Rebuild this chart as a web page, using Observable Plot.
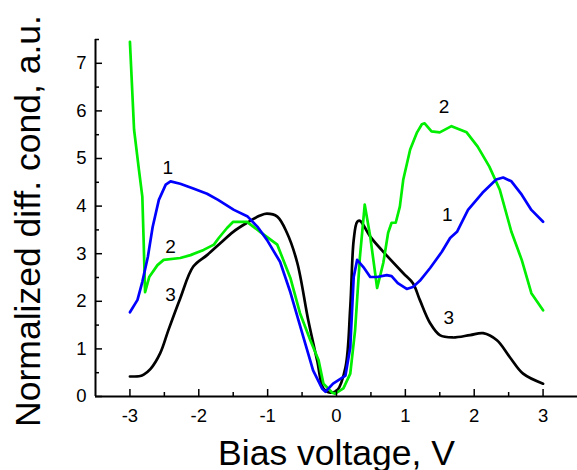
<!DOCTYPE html>
<html><head><meta charset="utf-8">
<script src="https://cdn.jsdelivr.net/npm/d3@7"></script>
<script src="https://cdn.jsdelivr.net/npm/@observablehq/plot@0.6"></script>
<style>
body{margin:0;background:#fff}
svg{font-family:"Liberation Sans",Arial,sans-serif}
</style>
</head><body><div id="chart"></div>
<script>
// Curve 1 (blue)
const v1 = [-3.0,-2.89,-2.82,-2.74,-2.67,-2.58,-2.48,-2.41,-2.27,-2.08,-1.88,-1.72,-1.49,-1.29,-1.15,-1.01,-0.82,-0.67,-0.48,-0.34,-0.21,-0.16,-0.05,0.13,0.20,0.25,0.30,0.39,0.49,0.59,0.73,0.80,0.89,1.02,1.11,1.21,1.36,1.53,1.65,1.75,1.91,2.12,2.32,2.42,2.54,2.69,2.83,3.0];
const g1 = [1.77,2.03,2.41,2.93,3.56,4.13,4.45,4.52,4.47,4.37,4.26,4.13,3.92,3.78,3.57,3.29,2.83,2.19,1.24,0.55,0.17,0.10,0.27,0.44,1.03,2.51,2.87,2.72,2.51,2.51,2.55,2.53,2.38,2.26,2.30,2.43,2.70,3.04,3.33,3.46,3.92,4.28,4.56,4.60,4.52,4.24,3.92,3.67];
// Curve 2 (green)
const v2 = [-3.0,-2.94,-2.87,-2.82,-2.80,-2.78,-2.72,-2.60,-2.51,-2.27,-2.12,-1.93,-1.78,-1.71,-1.59,-1.50,-1.30,-1.11,-0.86,-0.67,-0.53,-0.38,-0.26,-0.19,-0.06,-0.02,0.10,0.20,0.27,0.34,0.41,0.49,0.59,0.68,0.75,0.80,0.86,0.92,0.97,1.07,1.17,1.24,1.28,1.38,1.50,1.67,1.89,2.05,2.22,2.37,2.54,2.69,2.83,3.0];
const g2 = [7.45,5.61,4.77,4.20,3.23,2.19,2.51,2.76,2.87,2.91,2.97,3.08,3.19,3.33,3.54,3.67,3.67,3.46,3.19,2.49,1.75,1.18,0.76,0.27,0.08,0.06,0.17,0.48,1.39,2.93,4.03,3.36,2.28,2.81,3.44,3.65,3.65,3.99,4.56,5.19,5.55,5.72,5.74,5.57,5.55,5.68,5.55,5.25,4.83,4.35,3.46,2.87,2.17,1.81];
// Curve 3 (black)
const v3 = [-3.0,-2.85,-2.80,-2.70,-2.56,-2.44,-2.27,-2.08,-1.88,-1.68,-1.50,-1.30,-1.11,-1.01,-0.86,-0.72,-0.57,-0.41,-0.28,-0.19,-0.09,0.01,0.13,0.20,0.25,0.30,0.34,0.49,0.68,0.97,1.11,1.21,1.36,1.50,1.69,1.94,2.13,2.33,2.52,2.71,3.0];
const g3 = [0.42,0.43,0.46,0.58,0.91,1.40,2.06,2.73,2.97,3.23,3.46,3.65,3.80,3.84,3.78,3.44,2.81,1.60,0.75,0.17,0.08,0.13,0.61,1.88,3.29,3.67,3.69,3.36,3.04,2.59,2.38,2.03,1.54,1.29,1.24,1.29,1.33,1.18,0.82,0.48,0.27];

// Curve number labels
const labelText = ["1","2","3","2","1","3"];
const labelX = [-2.45,-2.41,-2.41,1.56,1.61,1.63];
const labelY = [4.81,3.14,2.13,6.08,3.82,1.65];

// Ticks
const xMajor = [-3,-2,-1,0,1,2,3];
const xMinor = [-2.5,-1.5,-0.5,0.5,1.5,2.5];
const yMajor = [0,1,2,3,4,5,6,7];
const yMinor = [0.5,1.5,2.5,3.5,4.5,5.5,6.5,7.5];

const xTitle = "Bias voltage, V";
const yTitle = "Normalized diff. cond, a.u.";

const rows = (xs, ys) => xs.map((x, i) => ({x, y: ys[i]}));
const font = "'Liberation Sans', Arial, sans-serif";

const chart = Plot.plot({
  width: 577, height: 470,
  marginLeft: 95, marginRight: 0, marginTop: 39, marginBottom: 74,
  x: {domain: [-3.5, 3.5], label: null},
  y: {domain: [0, 7.5], label: null},
  style: {fontFamily: font, background: "white", color: "black"},
  marks: [
    Plot.line(rows(v3, g3), {x: "x", y: "y", stroke: "black", strokeWidth: 2.7, curve: "catmull-rom"}),
    Plot.line(rows(v2, g2), {x: "x", y: "y", stroke: "#00ee00", strokeWidth: 2.7}),
    Plot.line(rows(v1, g1), {x: "x", y: "y", stroke: "#0000ff", strokeWidth: 2.7}),
    Plot.text(labelText, {x: (d, i) => labelX[i], y: (d, i) => labelY[i], text: d => d, fontSize: 19, fill: "black"}),
    // axis lines
    Plot.ruleY([0], {strokeWidth: 2}),
    Plot.ruleX([-3.5], {strokeWidth: 2}),
    // x ticks (inward)
    Plot.axisX(xMajor, {tickSize: 7, dy: -7, tickFormat: () => "", strokeWidth: 1.5, label: null}),
    Plot.axisX(xMinor, {tickSize: 4, dy: -4, tickFormat: () => "", strokeWidth: 1.5, label: null}),
    Plot.axisX(xMajor, {tickSize: 0, tickPadding: 12, tickFormat: d => String(d), fontSize: 18.5, label: null}),
    // y ticks (inward)
    Plot.axisY(yMajor, {tickSize: 7, dx: 7, tickFormat: () => "", strokeWidth: 1.5, label: null}),
    Plot.axisY(yMinor, {tickSize: 4, dx: 4, tickFormat: () => "", strokeWidth: 1.5, label: null}),
    Plot.axisY(yMajor, {tickSize: 0, tickPadding: 9, tickFormat: d => String(d), fontSize: 18.5, label: null}),
    // titles
    Plot.text([xTitle], {frameAnchor: "bottom", dy: 68, fontSize: 35.5, fill: "black"}),
    Plot.text([yTitle], {frameAnchor: "left", textAnchor: "middle", dx: -67, dy: 3, rotate: -90, fontSize: 35.5, fill: "black"})
  ]
});
document.getElementById("chart").appendChild(chart);
</script>
</body></html>
